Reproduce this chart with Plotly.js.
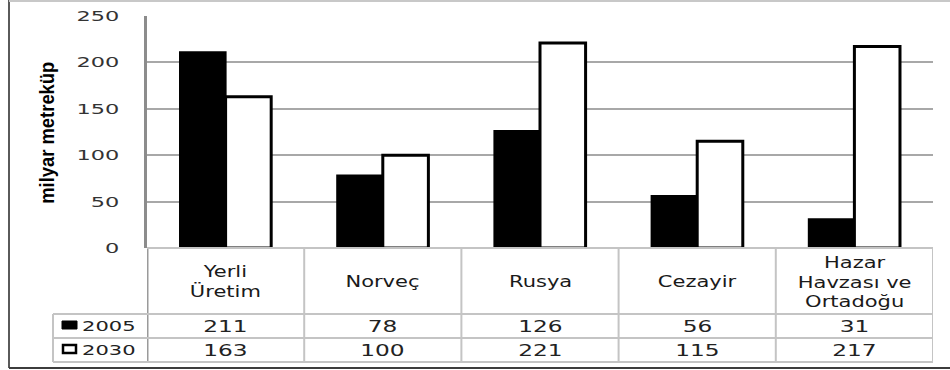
<!DOCTYPE html>
<html>
<head>
<meta charset="utf-8">
<script src="https://cdn.plot.ly/plotly-3.0.1.min.js"></script>
<style>
  html, body { margin: 0; padding: 0; background: #ffffff; }
  #chart { width: 950px; height: 370px; }
</style>
</head>
<body>
<div id="chart"></div>
<script>
// ---- data ----
const categories = ["Yerli\nÜretim", "Norveç", "Rusya", "Cezayir", "Hazar\nHavzası ve\nOrtadoğu"];
const seriesNames = ["2005", "2030"];
const values2005 = [211, 78, 126, 56, 31];
const values2030 = [163, 100, 221, 115, 217];
const yTicks = [0, 50, 100, 150, 200, 250];
const yTitle = "milyar metreküp";

// ---- geometry helpers (pixel -> paper) ----
const W = 950, H = 370;
const M = { l: 147, r: 17, t: 16, b: 122 };
const PW = W - M.l - M.r, PH = H - M.t - M.b;
const px = x => (x - M.l) / PW;
const py = y => (H - M.b - y) / PH;

const xCats = categories.map(c => c.replace(/\n/g, " "));

const traces = [
  { type: "bar", name: seriesNames[0], x: xCats, y: values2005,
    marker: { color: "#000000", line: { color: "#000000", width: 2 } }, hoverinfo: "skip" },
  { type: "bar", name: seriesNames[1], x: xCats, y: values2030,
    marker: { color: "#ffffff", line: { color: "#000000", width: 3 } }, hoverinfo: "skip" }
];

const tableGray = "#c4c4c4";
const shapes = [];
const line = (x0, y0, x1, y1, xref, color, width) =>
  shapes.push({ type: "line", xref: xref, yref: "paper", x0, y0, x1, y1,
                line: { color: color, width: width }, layer: "above" });

// vertical table separators at category boundaries
for (let i = 0; i <= categories.length; i++) {
  const c = i === 0 ? "#9a9a9a" : tableGray;
  line(i - 0.5, 0, i - 0.5, py(362), "x", c, i === 0 ? 3 : 2);
}
// horizontal table lines
line(-0.5, 0, categories.length - 0.5, 0, "x", tableGray, 2);
[314, 338, 362].forEach(yy => line(px(53), py(yy), 1, py(yy), "paper", tableGray, 2));
line(px(53), py(314), px(53), py(362), "paper", tableGray, 2);

// outer frame
line(px(9), py(0), px(9), py(368), "paper", "#5a5a5a", 2);
line(px(9), py(368), px(952), py(368), "paper", "#3c3c3c", 2);
line(px(9), py(1), px(952), py(1), "paper", "#c8c8c8", 2);

// legend keys in table
shapes.push({ type: "rect", xref: "paper", yref: "paper", x0: px(62), x1: px(77), y0: py(321), y1: py(329),
  fillcolor: "#000000", line: { color: "#000000", width: 1 }, layer: "above" });
shapes.push({ type: "rect", xref: "paper", yref: "paper", x0: px(63), x1: px(76), y0: py(345), y1: py(353),
  fillcolor: "#ffffff", line: { color: "#000000", width: 2.5 }, layer: "above" });

// annotations + stretch factors
const annotations = [];
const factors = [];
const addAnn = (a, f) => { annotations.push(a); factors.push(f); };

const catFont = { family: "DejaVu Sans", size: 15, color: "#1a1a1a" };
const valFont = { family: "DejaVu Sans", size: 15, color: "#222222" };
categories.forEach((c, i) => {
  addAnn({ text: c.split("\n").join("<br>"), xref: "x", yref: "paper", x: i, y: py(282), showarrow: false,
           xanchor: "center", yanchor: "middle", align: "center", font: catFont }, 1.4);
});
[values2005, values2030].forEach((vals, r) => {
  const cy = r === 0 ? 327 : 351;
  vals.forEach((v, i) => {
    addAnn({ text: String(v), xref: "x", yref: "paper", x: i, y: py(cy), showarrow: false,
             xanchor: "center", yanchor: "middle", font: valFont }, 1.55);
  });
  addAnn({ text: seriesNames[r], xref: "paper", yref: "paper", x: px(109), y: py(cy - 1), showarrow: false,
           xanchor: "center", yanchor: "middle", font: { family: "DejaVu Sans", size: 14, color: "#222222" } }, 1.5);
});
addAnn({ text: yTitle, xref: "paper", yref: "paper", x: px(47), y: py(133), showarrow: false,
         textangle: -90, xanchor: "center", yanchor: "middle",
         font: { family: "Liberation Sans", size: 20, weight: "bold", color: "#000000" } }, 0.92);

const layout = {
  width: W, height: H,
  margin: { l: M.l, r: M.r, t: M.t, b: M.b, pad: 0 },
  paper_bgcolor: "#ffffff", plot_bgcolor: "#ffffff",
  showlegend: false,
  barmode: "group", bargap: 0.42, bargroupgap: 0,
  xaxis: { type: "category", range: [-0.5, categories.length - 0.5], showticklabels: false,
           showgrid: false, zeroline: false, showline: false, ticks: "", fixedrange: true },
  yaxis: { range: [0, 250], tickvals: yTicks, ticktext: yTicks.map(String),
           showgrid: true, gridcolor: "#a8a8a8", gridwidth: 2, zeroline: false,
           showline: true, linecolor: "#8c8c8c", linewidth: 3, ticks: "",
           ticklabelstandoff: 22, tickfont: { family: "DejaVu Sans", size: 14, color: "#333333" },
           fixedrange: true },
  shapes: shapes,
  annotations: annotations
};

const gd = document.getElementById("chart");
Plotly.newPlot(gd, traces, layout, { staticPlot: true, displayModeBar: false }).then(() => {
  const stretchOne = (el, f) => {
    const len = el.getComputedTextLength();
    if (!(len > 0)) return;
    el.setAttribute("textLength", (len * f).toFixed(2));
    el.setAttribute("lengthAdjust", "spacingAndGlyphs");
  };
  const stretch = (el, f) => {
    if (!el || f === 1) return;
    const lines = el.querySelectorAll("tspan.line");
    if (lines.length) lines.forEach(t => stretchOne(t, f));
    else stretchOne(el, f);
  };
  gd.querySelectorAll(".annotation").forEach(g => {
    const idx = +g.getAttribute("data-index");
    stretch(g.querySelector("text.annotation-text"), factors[idx]);
  });
  gd.querySelectorAll(".ytick text").forEach(t => stretch(t, 1.6));
});
</script>
</body>
</html>
